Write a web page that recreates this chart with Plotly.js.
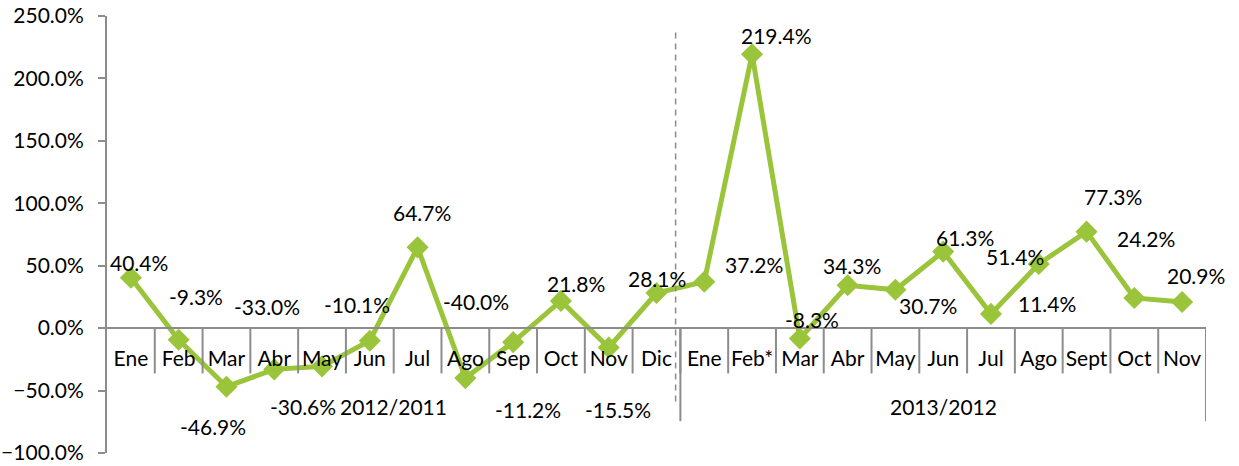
<!DOCTYPE html>
<html>
<head>
<meta charset="utf-8">
<script src="https://cdn.plot.ly/plotly-3.0.1.min.js"></script>
<style>html,body{margin:0;padding:0;background:#fff;}#chart{width:1239px;height:466px;}</style>
</head>
<body>
<div id="chart"></div>
<script>
// Data
const months = ["Ene","Feb","Mar","Abr","May","Jun","Jul","Ago","Sep","Oct","Nov","Dic",
                "Ene","Feb*","Mar","Abr","May","Jun","Jul","Ago","Sept","Oct","Nov"];
const groups = ["2012/2011","2013/2012"];
const groupSizes = [12, 11];
const values = [40.4,-9.3,-46.9,-33.0,-30.6,-10.1,64.7,-40.0,-11.2,21.8,-15.5,28.1,
                37.2,219.4,-8.3,34.3,30.7,61.3,11.4,51.4,77.3,24.2,20.9];

// label offsets in pixels (layout only)
const labelOffsets = [[8,-15],[17,-43],[-13,40],[-7,-63],[-19,40],[-13,-36],[4,-35],[11,-77],[15,67],[15,-17],[9,62],[0,-15],
                      [50,-17],[24,-19],[12,-19],[4,-20],[33,16],[22,-14],[56,-10],[-24,-7],[26,-35],[12,-59],[14,-27]];

const FONT = "Lato, 'Open Sans', sans-serif";
const FS = 21;
const GREEN = "#9AC43A";
const GRAY = "#8C8C8C";
const xIdx = values.map((v,i)=>i);

const yMin = -100, yMax = 250;
const plotH = 466 - 16 - 13;
const pxPerUnit = plotH / (yMax - yMin);

const annotations = values.map((v,i)=>({
  x: i, y: v, xref:'x', yref:'y',
  text: v.toFixed(1) + '%',
  showarrow: true, arrowcolor:'rgba(0,0,0,0)', arrowwidth:0.1,
  ax: labelOffsets[i][0], ay: labelOffsets[i][1],
  font:{family:FONT, size:FS, color:'#000'}
}));

// group labels
let start = 0;
const shapes = [];
groups.forEach((g,gi)=>{
  const end = start + groupSizes[gi] - 1;
  annotations.push({
    x:(start+end)/2, y:0, xref:'x', yref:'y', yshift:-78,
    text:g, showarrow:false, font:{family:FONT,size:FS,color:'#000'}
  });
  const bx = end + 0.5;
  shapes.push({type:'line', xref:'x', yref:'y', x0:bx, x1:bx, y0:0, y1:-93/pxPerUnit,
               line:{color:GRAY, width:2}});
  start = end + 1;
});
// dashed separator between periods
shapes.push({type:'line', xref:'x', yref:'y', x0:11.4, x1:11.4, y0:(328.7-33)/pxPerUnit, y1:-(405-328.7)/pxPerUnit,
             line:{color:GRAY, width:1.5, dash:'6px,5px'}});

const trace = {
  x: xIdx, y: values, type:'scatter', mode:'lines+markers',
  line:{color:GREEN, width:5},
  marker:{symbol:'diamond', size:17, color:GREEN},
  hoverinfo:'skip', cliponaxis:false
};

const layout = {
  width:1239, height:466,
  margin:{l:107, r:33, t:16, b:13},
  paper_bgcolor:'#fff', plot_bgcolor:'#fff',
  showlegend:false,
  font:{family:FONT, size:FS, color:'#000'},
  xaxis:{
    type:'linear', range:[-0.5, values.length-0.5],
    tickmode:'array', tickvals:xIdx, ticktext:months,
    anchor:'free', position:(0-yMin)/(yMax-yMin),
    showline:true, linecolor:GRAY, linewidth:2,
    ticks:'', showgrid:false, zeroline:false,
    tickfont:{family:FONT, size:FS, color:'#000'},
    ticklabelstandoff:12
  },
  yaxis:{
    range:[yMin, yMax], dtick:50, tick0:0,
    tickformat:'.1f', ticksuffix:'%',
    showline:true, linecolor:GRAY, linewidth:2,
    ticks:'outside', ticklen:7, tickcolor:GRAY, tickwidth:2,
    showgrid:false, zeroline:false,
    tickfont:{family:FONT, size:FS, color:'#000'},
    ticklabelstandoff:10
  },
  shapes: shapes.concat(
    xIdx.slice(0,-1).map(i=>({type:'line', xref:'x', yref:'y', x0:i+0.5, x1:i+0.5, y0:0, y1:-(374-328.7)/pxPerUnit,
      line:{color:GRAY, width:2}}))
  ),
  annotations: annotations
};

Plotly.newPlot('chart', [trace], layout, {displayModeBar:false, staticPlot:true});
</script>
</body>
</html>
